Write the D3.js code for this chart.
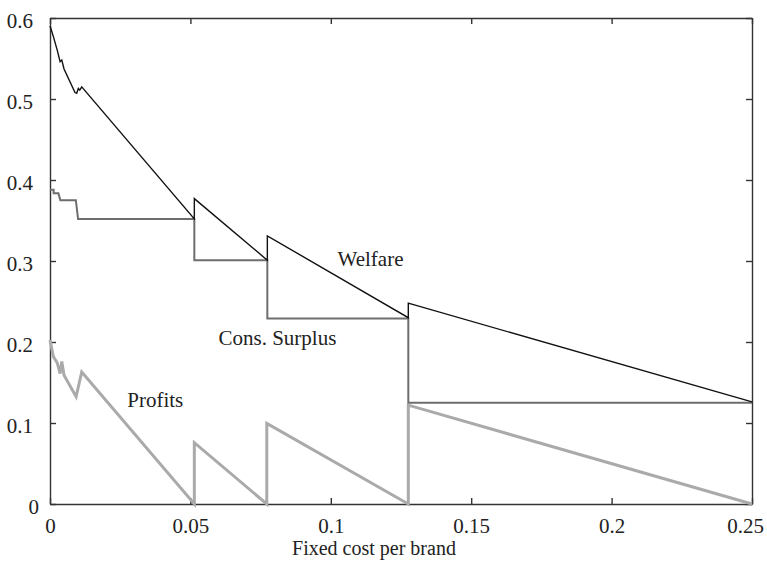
<!DOCTYPE html>
<html>
<head>
<meta charset="utf-8">
<script src="https://cdn.jsdelivr.net/npm/d3@7"></script>
<style>
  body { margin: 0; background: #fff; }
  text { font-family: "Liberation Serif", "Times New Roman", serif; fill: #222; }
</style>
</head>
<body>
<div id="chart"></div>
<script>
const width = 767;
const height = 561;
const margin = ({top: 18, right: 15, bottom: 57, left: 50});

// values
const welfareX = [0, 0.0004, 0.0012, 0.0026, 0.0036, 0.0042, 0.0050, 0.0089, 0.0095, 0.0101, 0.0106, 0.0113, 0.0514, 0.0514, 0.0774, 0.0774, 0.1276, 0.1276, 0.25];
const welfareY = [0.590, 0.586, 0.577, 0.560, 0.546, 0.548, 0.537, 0.508, 0.507, 0.513, 0.511, 0.515, 0.352, 0.377, 0.301, 0.331, 0.230, 0.248, 0.126];

const csX = [0, 0.0013, 0.0013, 0.0030, 0.0037, 0.0092, 0.0100, 0.0514, 0.0514, 0.0774, 0.0774, 0.1276, 0.1276, 0.25];
const csY = [0.388, 0.388, 0.3835, 0.3835, 0.375, 0.375, 0.352, 0.352, 0.301, 0.301, 0.229, 0.229, 0.125, 0.125];

const profitX = [0, 0.0012, 0.0026, 0.0036, 0.0042, 0.0050, 0.0093, 0.0113, 0.0514, 0.0514, 0.0772, 0.0772, 0.1276, 0.1276, 0.25];
const profitY = [0.2025, 0.182, 0.174, 0.161, 0.176, 0.159, 0.1325, 0.163, 0, 0.0757, 0, 0.0996, 0, 0.122, 0];

const xTicks = [0, 0.05, 0.1, 0.15, 0.2, 0.25];
const yTicks = [0, 0.1, 0.2, 0.3, 0.4, 0.5, 0.6];

const labels = [
    {text: "Welfare", x: 0.1024, y: 0.294},
    {text: "Cons. Surplus", x: 0.0600, y: 0.196},
    {text: "Profits", x: 0.0275, y: 0.120}
];

let svg = d3.select("#chart")
    .append("svg")
    .attr("width", width)
    .attr("height", height);

let xScale = d3.scaleLinear()
    .domain([0, 0.25])
    .range([margin.left, width - margin.right]);

let yScale = d3.scaleLinear()
    .domain([0, 0.6])
    .range([height - margin.bottom, margin.top]);

const fmt = (d) => d === 0 ? "0" : String(d);

// axes, ticks pointing inward
let xAxis = svg.append("g")
    .attr("transform", "translate(0," + yScale(0) + ")")
    .call(d3.axisBottom(xScale).tickValues(xTicks).tickFormat(fmt)
        .tickSizeInner(-6).tickSizeOuter(0).tickPadding(14));

let yAxis = svg.append("g")
    .attr("transform", "translate(" + xScale(0) + ",0)")
    .call(d3.axisLeft(yScale).tickValues(yTicks).tickFormat(fmt)
        .tickSizeInner(-6).tickSizeOuter(0).tickPadding(17));

svg.append("g")
    .attr("transform", "translate(0," + yScale(0.6) + ")")
    .call(d3.axisTop(xScale).tickValues(xTicks).tickFormat("")
        .tickSizeInner(-6).tickSizeOuter(0));

svg.append("g")
    .attr("transform", "translate(" + xScale(0.25) + ",0)")
    .call(d3.axisRight(yScale).tickValues(yTicks).tickFormat("")
        .tickSizeInner(-6).tickSizeOuter(0));

svg.selectAll(".domain, .tick line")
    .attr("stroke", "#333")
    .attr("stroke-width", 1.4);

svg.selectAll(".tick text")
    .style("font-family", "'Liberation Serif', 'Times New Roman', serif")
    .style("font-size", "21px")
    .attr("fill", "#222");

yAxis.selectAll(".tick text")
    .attr("dy", "0.44em")
    .attr("x", function (d) {
        return d === 0 ? -11 : -17;
    });

// last x label sits a little left so it stays inside the page
xAxis.selectAll(".tick text")
    .attr("x", function (d) {
        return d === 0.25 ? -7 : 0;
    });

let line = d3.line()
    .x(function (d) { return xScale(d[0]); })
    .y(function (d) { return yScale(d[1]); });

const series = [
    {xs: profitX, ys: profitY, color: "#aaaaaa", w: 3},
    {xs: csX, ys: csY, color: "#6e6e6e", w: 2},
    {xs: welfareX, ys: welfareY, color: "#111111", w: 1.4}
];

series.forEach(function (s) {
    svg.append("path")
        .datum(s.xs.map(function (x, i) { return [x, s.ys[i]]; }))
        .attr("fill", "none")
        .attr("stroke", s.color)
        .attr("stroke-width", s.w)
        .attr("stroke-linejoin", "miter")
        .attr("d", line);
});

svg.selectAll(".label")
    .data(labels)
    .enter()
    .append("text")
    .attr("class", "label")
    .attr("x", function (d) { return xScale(d.x); })
    .attr("y", function (d) { return yScale(d.y); })
    .attr("font-size", "21px")
    .text(function (d) { return d.text; });

svg.append("text")
    .attr("x", 374)
    .attr("y", 555)
    .attr("text-anchor", "middle")
    .attr("font-size", "20px")
    .text("Fixed cost per brand");
</script>
</body>
</html>
